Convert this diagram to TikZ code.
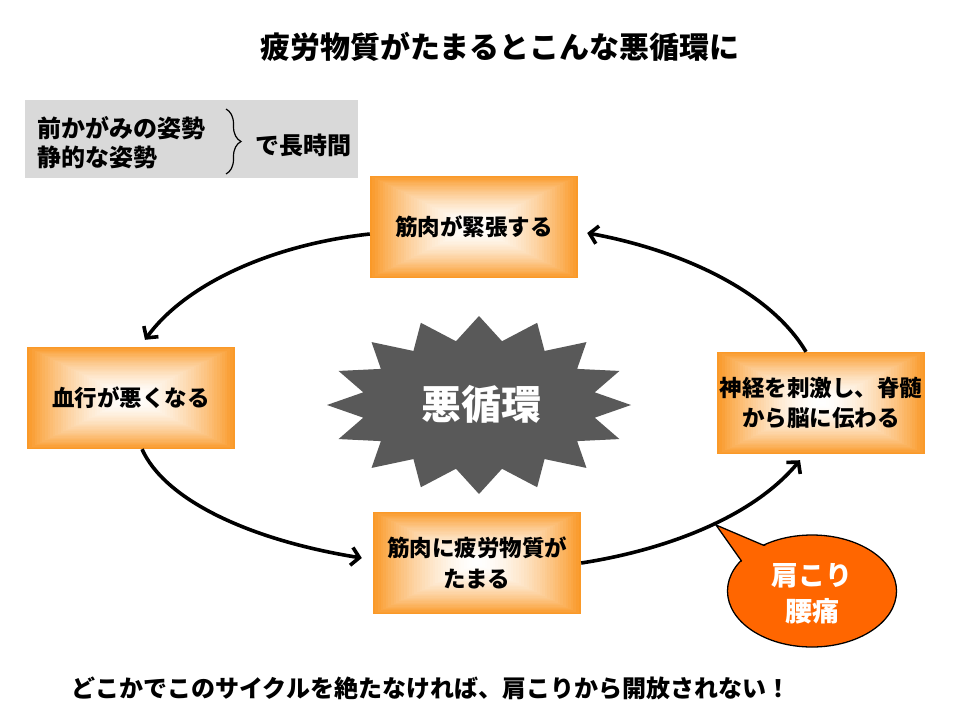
\documentclass[tikz,border=0pt]{standalone}
\usepackage{fontspec}
\setmainfont{Noto Sans CJK JP}
\usetikzlibrary{arrows.meta,calc,backgrounds,decorations.pathreplacing}
\definecolor{boxorange}{RGB}{250,153,40}
\definecolor{calloutorange}{RGB}{255,102,0}
\definecolor{stargray}{RGB}{89,89,89}
\definecolor{panelgray}{RGB}{217,217,217}
\begin{document}
\begin{tikzpicture}[x=1pt,y=-1pt,
  stepbox/.style={minimum width=208pt, minimum height=102pt, inner sep=0pt, align=center,
    font=\fontsize{22.5}{30.5}\selectfont\bfseries},
  flow/.style={line width=3.6pt, -{Straight Barb[length=8pt,width=18pt]}},
  jpbold/.style={font=\fontsize{#1}{#1}\selectfont\bfseries},
]
\useasboundingbox (0,0) rectangle (960,720);
\begin{scope}[on background layer]
\fill[white] (0,0) rectangle (960,720);
\end{scope}

% title
\node[jpbold=30] (title) at (500,47) {疲労物質がたまるとこんな悪循環に};

% grey panel
\node[fill=panelgray, minimum width=333pt, minimum height=78pt, inner sep=0pt] (panel) at (191.5,139) {};
\node[anchor=west, inner sep=0pt, align=left, font=\fontsize{24}{29}\selectfont\bfseries] (postures) at (37,142.5) {前かがみの姿勢\\静的な姿勢};
\draw[line width=1.2pt, decorate, decoration={brace, amplitude=15pt}] (226,109) -- (226,174);
\node[jpbold=24] (longtime) at (303,145) {で長時間};

% boxes
\node[stepbox] (tense) at (474,227) {筋肉が緊張する};
\node[stepbox] (blood) at (131,398) {血行が悪くなる};
\node[stepbox] (fatigue) at (477,563) {筋肉に疲労物質が\\たまる};
\node[stepbox] (nerve) at (821,403) {神経を刺激し、脊髄\\から脳に伝わる};

\begin{scope}[on background layer]
\foreach \n in {tense,blood,fatigue,nerve}{
  \foreach \k in {0,...,39}{
    \pgfmathsetmacro\f{\k/40}
    \pgfmathsetmacro\p{100*(1-\f)^1.7}
    \fill[boxorange!\p!white] ($(\n.south west)!\f!(\n.center)$) rectangle ($(\n.north east)!\f!(\n.center)$);
  }
}
\end{scope}

% star
\fill[stargray] (479,316)
  \foreach \i in {0,...,15}{
    -- ({479+152*cos(90+\i*22.5)},{405-89*sin(90+\i*22.5)})
    -- ({479+118*cos(101.25+\i*22.5)},{405-65*sin(101.25+\i*22.5)})
  } -- cycle;
\node[text=white, jpbold=40] (vicious) at (481,404) {悪循環};

% connectors
\draw[flow] ([yshift=-7pt]tense.west) .. controls +(-100,11) and +(40,-55) .. ([xshift=14pt,yshift=7pt]blood.north);
\draw[flow] ([xshift=11pt]blood.south) .. controls +(23,51) and +(-112,-18) .. ([xshift=-11pt,yshift=5pt]fatigue.west);
\draw[flow] (fatigue.east) .. controls +(78,-12) and +(-50,60) .. ([xshift=-21pt,yshift=-6pt]nerve.south);
\draw[flow] ([xshift=-15pt]nerve.north) .. controls +(-36,-61) and +(93,17) .. ([xshift=9pt,yshift=-6pt]tense.east);

% callout
\filldraw[fill=calloutorange, draw=black, line width=1.3pt] (812,591) ellipse [x radius=84.5, y radius=56];
\filldraw[fill=calloutorange, draw=black, line width=1.3pt, line join=miter] (770,548) -- (716,525) -- (745,566) -- cycle;
\fill[calloutorange] (812,591) ellipse [x radius=83.3, y radius=54.8];
\node[text=white, align=center, font=\fontsize{27}{36}\selectfont\bfseries] (pain) at (812,594) {肩こり\\腰痛};

% bottom message
\node[jpbold=24] (slogan) at (431,688) {どこかでこのサイクルを絶たなければ、肩こりから開放されない！};
\end{tikzpicture}
\end{document}
